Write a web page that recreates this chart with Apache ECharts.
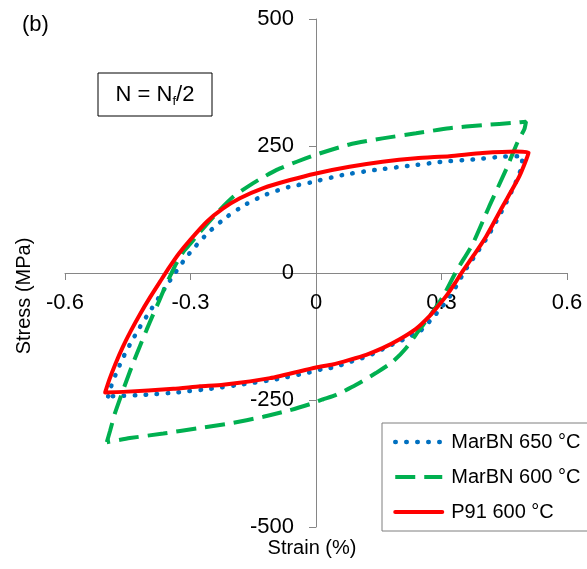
<!DOCTYPE html>
<html><head><meta charset="utf-8">
<script src="https://cdn.jsdelivr.net/npm/echarts@6/dist/echarts.min.js"></script>
<style>html,body{margin:0;padding:0;background:#fff}#c{width:587px;height:569px}</style>
</head><body><div id="c"></div>
<script>
const FONT = '"Liberation Sans", Arial, sans-serif';
const seriesNames = ['MarBN 650 °C', 'MarBN 600 °C', 'P91 600 °C'];
const xTicks = [-0.6, -0.3, 0, 0.3, 0.6];
const yTicks = [-500, -250, 0, 250, 500];

// MarBN 650 °C : loop (min tip -> loading -> max tip -> unloading -> min tip)
const marbn650Strain = [-0.497, -0.490, -0.478, -0.462, -0.443, -0.422, -0.400, -0.377, -0.355, -0.335, -0.313, -0.293, -0.257, -0.214, -0.166, -0.118, -0.066, -0.014, 0.064, 0.143, 0.223, 0.303, 0.382, 0.446, 0.494,
  0.490, 0.474, 0.450, 0.410, 0.380, 0.355, 0.338, 0.320, 0.300, 0.275, 0.247, 0.223, 0.199, 0.171, 0.147, 0.120, 0.096, 0.068, 0.040, 0.012, -0.006, -0.094, -0.174, -0.253, -0.333, -0.413, -0.469, -0.497];
const marbn650Stress = [-243, -224, -198, -168, -138, -108, -79, -50, -22, 2, 28, 48, 80, 110, 136, 155, 169, 178, 193, 203, 211, 219, 224, 229, 230,
  205, 172, 131, 71, 34, 3, -22, -46, -68, -92, -116, -125, -135, -145, -155, -165, -171, -179, -186, -190, -194, -209, -219, -228, -235, -240, -242, -243];

// MarBN 600 °C
const marbn600Strain = [-0.500, -0.492, -0.481, -0.467, -0.453, -0.437, -0.421, -0.405, -0.389, -0.375, -0.361, -0.347, -0.333, -0.315, -0.301, -0.277, -0.237, -0.198, -0.150, -0.094, -0.046, 0.000, 0.080, 0.159, 0.239, 0.319, 0.398, 0.478, 0.502,
  0.498, 0.482, 0.454, 0.414, 0.375, 0.335, 0.303, 0.271, 0.247, 0.215, 0.183, 0.143, 0.096, 0.048, 0.016, -0.014, -0.062, -0.126, -0.206, -0.285, -0.365, -0.445, -0.500];
const marbn600Stress = [-333, -310, -277, -244, -212, -177, -144, -112, -81, -55, -28, -3, 20, 44, 57, 81, 118, 150, 177, 203, 219, 233, 253, 265, 275, 285, 291, 296, 298,
  283, 258, 203, 131, 58, 3, -47, -86, -112, -148, -175, -197, -220, -240, -249, -258, -270, -283, -296, -306, -316, -325, -333];

// P91 600 °C
const p91Strain = [-0.504, -0.494, -0.480, -0.462, -0.442, -0.420, -0.396, -0.372, -0.350, -0.328, -0.301, -0.261, -0.222, -0.182, -0.126, -0.062, 0.000, 0.080, 0.159, 0.239, 0.319, 0.398, 0.478, 0.508,
  0.486, 0.446, 0.406, 0.378, 0.351, 0.333, 0.315, 0.293, 0.269, 0.239, 0.199, 0.159, 0.120, 0.080, 0.040, 0.000, -0.110, -0.222, -0.277, -0.341, -0.461, -0.504];
const p91Stress = [-235, -210, -180, -146, -113, -80, -47, -16, 12, 38, 65, 101, 127, 147, 167, 183, 196, 209, 219, 226, 230, 236, 239, 237,
  190, 131, 71, 36, 4, -19, -41, -64, -87, -110, -131, -148, -161, -171, -180, -186, -207, -220, -223, -228, -234, -235];

function zip(a, b) { return a.map((v, i) => [v, b[i]]); }

const chart = echarts.init(document.getElementById('c'), null, { renderer: 'canvas' });
const axisColor = '#868686';
const styles = [
  { color: '#0070C0', width: 4.5, type: [0.5, 10.5], cap: 'round' },
  { color: '#00B050', width: 4, type: [20, 9], cap: 'butt' },
  { color: '#FF0000', width: 4, type: 'solid', cap: 'round', join: 'round' }
];
chart.setOption({
  animation: false,
  backgroundColor: '#fff',
  grid: { left: 65, right: 20, top: 19, bottom: 42, containLabel: false, outerBoundsMode: 'none' },
  xAxis: {
    type: 'value', min: xTicks[0], max: xTicks[xTicks.length - 1], interval: 0.3,
    position: 'bottom', offset: -254,
    axisLine: { onZero: false, lineStyle: { color: axisColor, width: 1 } },
    axisTick: { show: true, inside: false, length: 7, lineStyle: { color: axisColor } },
    axisLabel: { margin: 19, fontSize: 22, fontFamily: FONT, color: '#000', showMinLabel: true, showMaxLabel: true },
    splitLine: { show: false }
  },
  yAxis: {
    type: 'value', min: yTicks[0], max: yTicks[yTicks.length - 1], interval: 250,
    position: 'left', offset: -251,
    axisLine: { onZero: false, lineStyle: { color: axisColor, width: 1 } },
    axisTick: { show: true, inside: false, length: 7, lineStyle: { color: axisColor } },
    axisLabel: { margin: 22, fontSize: 22, fontFamily: FONT, color: '#000', showMinLabel: true, showMaxLabel: true },
    splitLine: { show: false }
  },
  legend: {
    orient: 'vertical', left: 382, top: 423, padding: [9, 12, 9, 11],
    itemGap: 15, itemWidth: 47, itemHeight: 14,
    borderColor: '#7f7f7f', borderWidth: 1, backgroundColor: '#fff',
    itemStyle: { opacity: 0 },
    textStyle: { fontSize: 20, fontFamily: FONT, color: '#000', lineHeight: 20, padding: [0, 0, 0, 4] },
    data: seriesNames.map((n, i) => ({ name: n, lineStyle: styles[i], itemStyle: { opacity: 0 } }))
  },
  series: seriesNames.map((n, i) => ({
    name: n, type: 'line', symbol: 'none', smooth: 0.2,
    data: [zip(marbn650Strain, marbn650Stress), zip(marbn600Strain, marbn600Stress), zip(p91Strain, p91Stress)][i],
    lineStyle: styles[i], itemStyle: { color: styles[i].color }
  })),
  graphic: [
    { type: 'text', left: 22, top: 14, style: { text: '(b)', fontSize: 22, fontFamily: FONT, fill: '#000' } },
    { type: 'rect', shape: { x: 98, y: 73, width: 114, height: 43 }, style: { fill: '#fff', stroke: '#000', lineWidth: 1 } },
    { type: 'text', x: 155, y: 95, style: {
        text: '{n|N = N}{s|f}{n|/2}', align: 'center', verticalAlign: 'middle',
        rich: { n: { fontSize: 22, fontFamily: FONT, fill: '#000', lineHeight: 24 },
                s: { fontSize: 13, fontFamily: FONT, fill: '#000', padding: [12, 0, 0, 0] } } } },
    { type: 'text', x: 312, y: 548, style: { text: 'Strain (%)', fontSize: 20, fontFamily: FONT, fill: '#000', align: 'center', verticalAlign: 'middle' } },
    { type: 'text', x: 24, y: 296, rotation: Math.PI / 2, style: { text: 'Stress (MPa)', fontSize: 20, fontFamily: FONT, fill: '#000', align: 'center', verticalAlign: 'middle' } }
  ]
});
</script></body></html>
